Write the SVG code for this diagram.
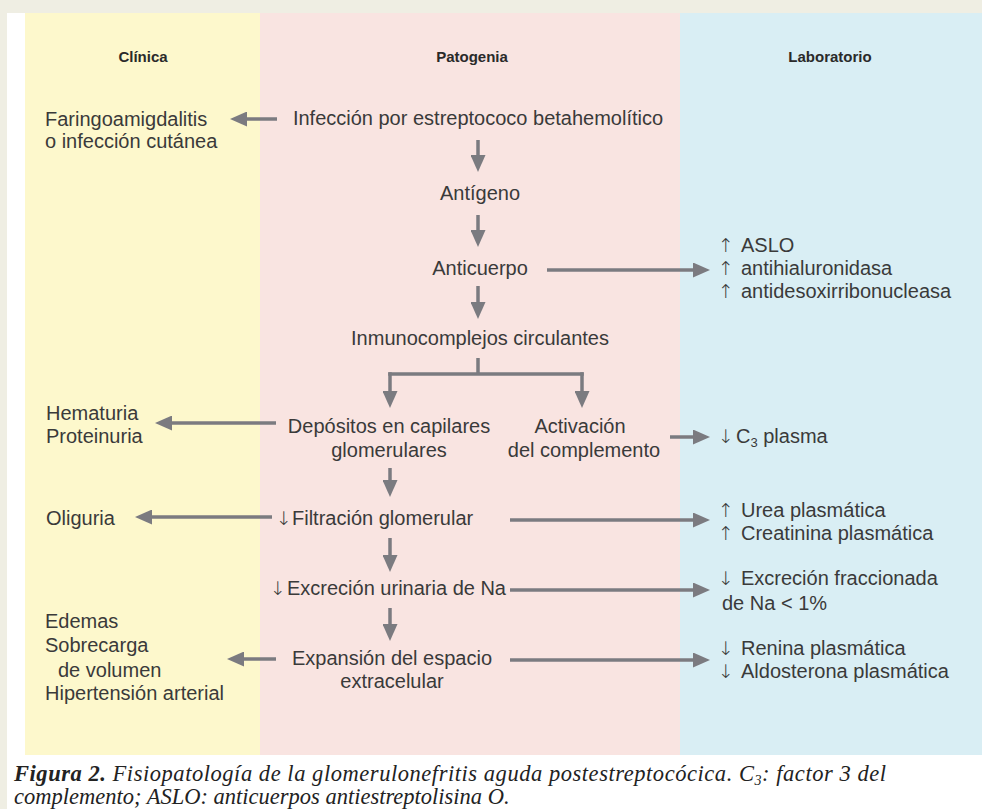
<svg xmlns="http://www.w3.org/2000/svg" width="982" height="809" viewBox="0 0 982 809">
<style>
.t{font-family:"Liberation Sans",Arial,sans-serif;font-size:20px;fill:#3a3a3a}
.ar{font-family:"DejaVu Sans",sans-serif;font-size:19px;font-weight:200}
.h{font-family:"Liberation Sans",Arial,sans-serif;font-size:15px;font-weight:bold;fill:#2a2a2a}
.m{text-anchor:middle}
.c{font-family:"Liberation Serif","Times New Roman",serif;font-style:italic;font-size:22.5px;fill:#222}
.a{stroke:#7b7b80;stroke-width:3.5;fill:none}
</style>
<defs>
<marker id="ah" viewBox="0 0 17 15" refX="0" refY="7.5" markerWidth="17" markerHeight="15" markerUnits="userSpaceOnUse" orient="auto">
<path d="M0,0 L17,7.5 L0,15 z" fill="#7b7b80"/>
</marker>
</defs>
<rect width="982" height="809" fill="#efeee3"/>
<rect x="7" y="13" width="975" height="796" fill="#ffffff"/>
<rect x="25" y="13" width="235" height="742" fill="#fdf8cc"/>
<rect x="260" y="13" width="420" height="742" fill="#f9e4e1"/>
<rect x="680" y="13" width="302" height="742" fill="#d9eef4"/>

<g id="headers">
<text class="h m" x="143" y="62">Clínica</text>
<text class="h m" x="472" y="62">Patogenia</text>
<text class="h m" x="830" y="62">Laboratorio</text>
</g>

<g id="connectors">
<path class="a" d="M478,140 V155" marker-end="url(#ah)"/>
<path class="a" d="M478,215 V230" marker-end="url(#ah)"/>
<path class="a" d="M478,286 V302" marker-end="url(#ah)"/>
<path class="a" d="M478,358 V374 M388.25,374 H583.75"/>
<path class="a" d="M390,372.25 V391" marker-end="url(#ah)"/>
<path class="a" d="M582,372.25 V391" marker-end="url(#ah)"/>
<path class="a" d="M390,468 V480" marker-end="url(#ah)"/>
<path class="a" d="M390,538 V555" marker-end="url(#ah)"/>
<path class="a" d="M390,608 V624" marker-end="url(#ah)"/>
<path class="a" d="M277,119 H247" marker-end="url(#ah)"/>
<path class="a" d="M547,270 H693" marker-end="url(#ah)"/>
<path class="a" d="M276,423 H172" marker-end="url(#ah)"/>
<path class="a" d="M670,437 H693" marker-end="url(#ah)"/>
<path class="a" d="M272,517 H152" marker-end="url(#ah)"/>
<path class="a" d="M510,520 H693" marker-end="url(#ah)"/>
<path class="a" d="M510,590 H693" marker-end="url(#ah)"/>
<path class="a" d="M276,659 H244" marker-end="url(#ah)"/>
<path class="a" d="M510,660 H693" marker-end="url(#ah)"/>
</g>

<g id="n-faringo"><text class="t" x="45" y="126">Faringoamigdalitis</text><text class="t" x="45" y="148">o infección cutánea</text></g>
<g id="n-infeccion"><text class="t m" x="478" y="125">Infección por estreptococo betahemolítico</text></g>
<g id="n-antigeno"><text class="t m" x="480" y="200">Antígeno</text></g>
<g id="n-anticuerpo"><text class="t m" x="480" y="275">Anticuerpo</text></g>
<g id="n-aslo">
<text class="t" x="718" y="252"><tspan class="ar">↑</tspan><tspan x="741">ASLO</tspan></text>
<text class="t" x="718" y="275"><tspan class="ar">↑</tspan><tspan x="741">antihialuronidasa</tspan></text>
<text class="t" x="718" y="298"><tspan class="ar">↑</tspan><tspan x="741">antidesoxirribonucleasa</tspan></text>
</g>
<g id="n-inmuno"><text class="t m" x="480" y="345">Inmunocomplejos circulantes</text></g>
<g id="n-hematuria"><text class="t" x="46" y="420">Hematuria</text><text class="t" x="46" y="443">Proteinuria</text></g>
<g id="n-depositos"><text class="t m" x="389" y="433">Depósitos en capilares</text><text class="t m" x="389" y="457">glomerulares</text></g>
<g id="n-activacion"><text class="t m" x="580" y="433">Activación</text><text class="t m" x="584" y="457">del complemento</text></g>
<g id="n-c3"><text class="t" x="718" y="443"><tspan class="ar">↓</tspan><tspan x="736">C</tspan><tspan font-size="13" dy="4">3</tspan><tspan dy="-4"> plasma</tspan></text></g>
<g id="n-oliguria"><text class="t" x="46" y="525">Oliguria</text></g>
<g id="n-filtracion"><text class="t" x="276" y="525"><tspan class="ar">↓</tspan><tspan x="292">Filtración glomerular</tspan></text></g>
<g id="n-urea">
<text class="t" x="718" y="517"><tspan class="ar">↑</tspan><tspan x="741">Urea plasmática</tspan></text>
<text class="t" x="718" y="540"><tspan class="ar">↑</tspan><tspan x="741">Creatinina plasmática</tspan></text>
</g>
<g id="n-excrecion"><text class="t" x="270" y="595"><tspan class="ar">↓</tspan><tspan x="287">Excreción urinaria de Na</tspan></text></g>
<g id="n-fraccionada">
<text class="t" x="718" y="585"><tspan class="ar">↓</tspan><tspan x="741">Excreción fraccionada</tspan></text>
<text class="t" x="722" y="610">de Na &lt; 1%</text>
</g>
<g id="n-edemas">
<text class="t" x="45" y="628">Edemas</text>
<text class="t" x="45" y="652">Sobrecarga</text>
<text class="t" x="58" y="677">de volumen</text>
<text class="t" x="45" y="700">Hipertensión arterial</text>
</g>
<g id="n-expansion"><text class="t m" x="392" y="665">Expansión del espacio</text><text class="t m" x="392" y="688">extracelular</text></g>
<g id="n-renina">
<text class="t" x="718" y="655"><tspan class="ar">↓</tspan><tspan x="741">Renina plasmática</tspan></text>
<text class="t" x="718" y="678"><tspan class="ar">↓</tspan><tspan x="741">Aldosterona plasmática</tspan></text>
</g>

<g id="caption">
<text class="c" x="14" y="781" textLength="872" lengthAdjust="spacing"><tspan font-weight="bold">Figura 2.</tspan> Fisiopatología de la glomerulonefritis aguda postestreptocócica. C<tspan font-size="14" dy="4">3</tspan><tspan dy="-4">: factor 3 del</tspan></text>
<text class="c" x="14" y="804">complemento; ASLO: anticuerpos antiestreptolisina O.</text>
</g>
</svg>
